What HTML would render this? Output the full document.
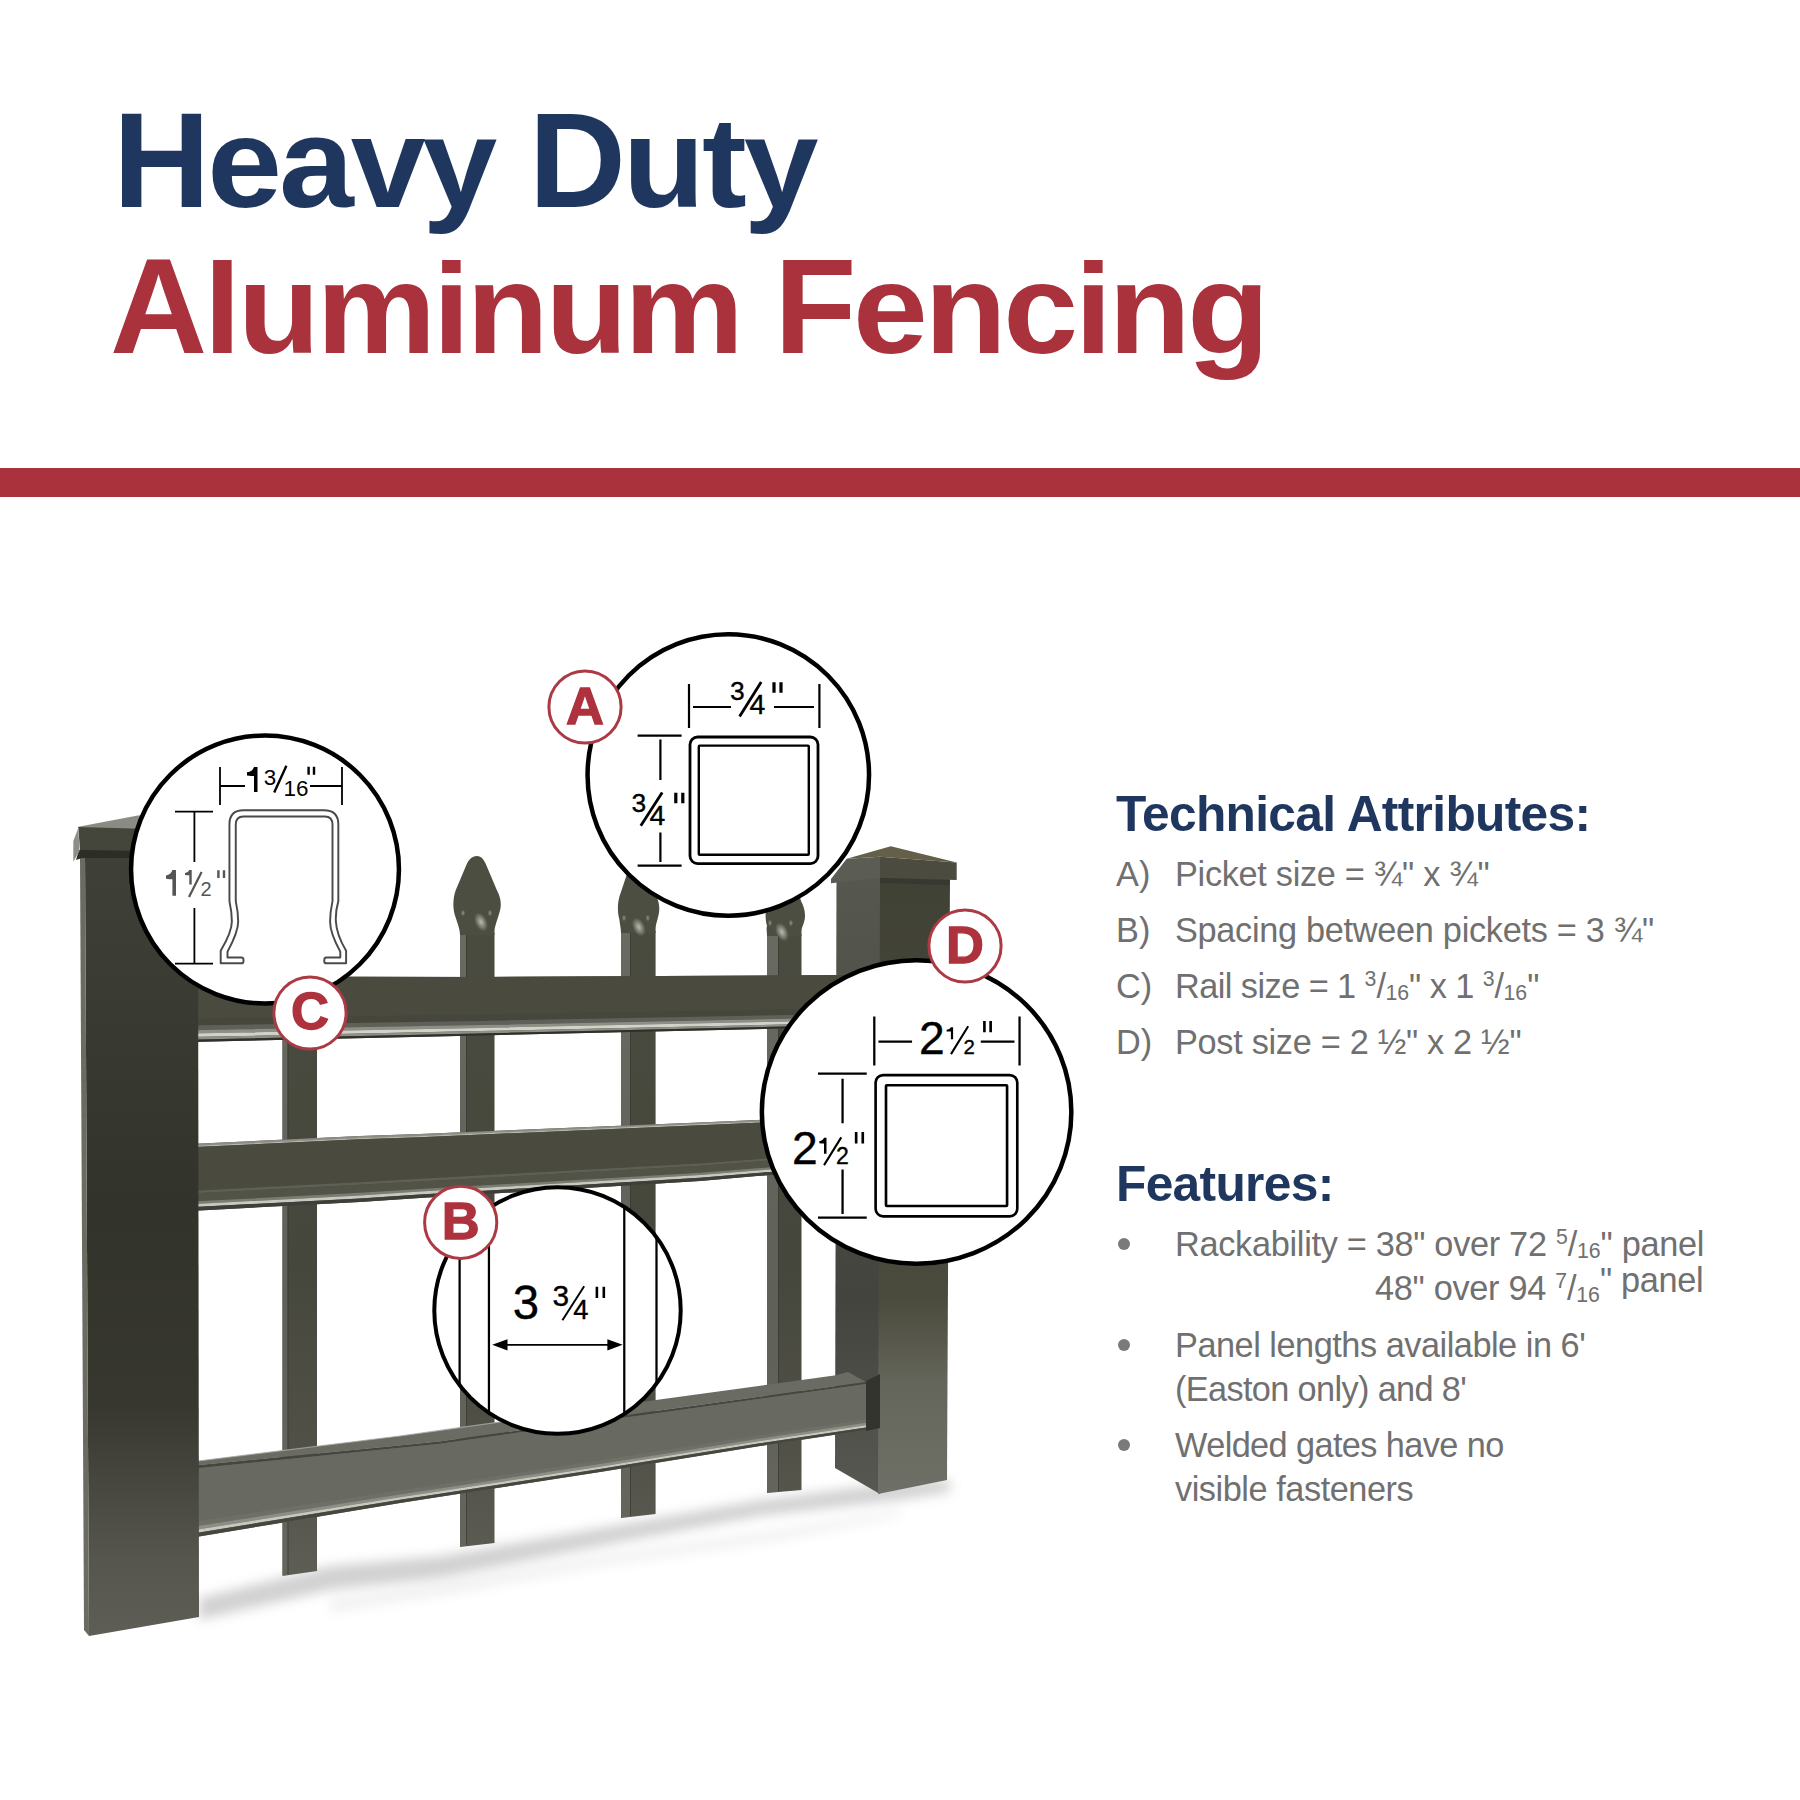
<!DOCTYPE html>
<html><head><meta charset="utf-8">
<style>
*{margin:0;padding:0;box-sizing:border-box}
html,body{width:1800px;height:1800px;background:#fff;overflow:hidden}
body{position:relative;font-family:"Liberation Sans",sans-serif}
.t{position:absolute;white-space:nowrap;line-height:1}
.h1{font-weight:bold;font-size:134.5px;color:#1f365e}
.h2{font-weight:bold;font-size:134.5px;color:#a9323d}
.lc{display:inline-block;transform:scaleY(0.952);transform-origin:0 113.9px}
.bar{position:absolute;left:0;top:468px;width:1800px;height:29px;background:#a9323c}
.hd{font-weight:bold;font-size:49.7px;color:#1f365e}
.g{font-size:34.3px;color:#707070}
.ls{letter-spacing:-0.3px}
.sp{font-size:0.62em;position:relative;top:-0.55em;letter-spacing:0}
.sb{font-size:0.62em;position:relative;top:0.1em;letter-spacing:0}
.dot{position:absolute;width:12px;height:12px;border-radius:50%;background:#7a7a7c}
</style></head>
<body>
<svg width="1800" height="1800" viewBox="0 0 1800 1800" style="position:absolute;left:0;top:0">
<defs>
<filter id="blur6" x="-20%" y="-50%" width="140%" height="200%"><feGaussianBlur stdDeviation="6"/></filter>
<filter id="blur3" x="-20%" y="-50%" width="140%" height="200%"><feGaussianBlur stdDeviation="3"/></filter>
<filter id="blur1" x="-50%" y="-50%" width="200%" height="200%"><feGaussianBlur stdDeviation="1.2"/></filter>
<linearGradient id="lpost" x1="0" y1="850" x2="0" y2="1640" gradientUnits="userSpaceOnUse">
<stop offset="0" stop-color="#3f4037"/><stop offset="0.45" stop-color="#32332b"/><stop offset="0.7" stop-color="#37372f"/><stop offset="0.9" stop-color="#56564e"/><stop offset="1" stop-color="#5e5e56"/></linearGradient>
<linearGradient id="rpostL" x1="0" y1="880" x2="0" y2="1495" gradientUnits="userSpaceOnUse">
<stop offset="0" stop-color="#56574e"/><stop offset="0.68" stop-color="#43443d"/><stop offset="0.85" stop-color="#4e4f48"/><stop offset="1" stop-color="#575851"/></linearGradient>
<linearGradient id="rpostF" x1="0" y1="880" x2="0" y2="1495" gradientUnits="userSpaceOnUse">
<stop offset="0" stop-color="#414236"/><stop offset="0.68" stop-color="#4a4b3c"/><stop offset="0.82" stop-color="#65665b"/><stop offset="1" stop-color="#6e6f66"/></linearGradient>
<linearGradient id="pick" x1="0" y1="880" x2="0" y2="1580" gradientUnits="userSpaceOnUse">
<stop offset="0" stop-color="#4b4c40"/><stop offset="0.55" stop-color="#46473c"/><stop offset="0.8" stop-color="#505047"/><stop offset="1" stop-color="#5e5e56"/></linearGradient>
<linearGradient id="pickS" x1="0" y1="880" x2="0" y2="1580" gradientUnits="userSpaceOnUse">
<stop offset="0" stop-color="#6a6b62"/><stop offset="0.6" stop-color="#5f6058"/><stop offset="1" stop-color="#66665f"/></linearGradient>
<radialGradient id="spec" cx="0.5" cy="0.5" r="0.5"><stop offset="0" stop-color="#e8e8e0"/><stop offset="1" stop-color="#e8e8e0" stop-opacity="0"/></radialGradient>
</defs>
<g filter="url(#blur6)" opacity="0.45">
<polygon points="199,1598 330,1566 440,1556 600,1528 760,1500 900,1482 950,1480 950,1492 900,1500 760,1516 600,1546 440,1578 330,1590 199,1620" fill="#9a9a9a"/>
</g>
<g filter="url(#blur6)" opacity="0.12">
<polygon points="330,1600 460,1580 600,1556 780,1530 900,1510 900,1516 780,1540 600,1566 460,1592 330,1612" fill="#888"/>
</g>
<polygon points="282.5,990.0 317.0,990.0 317.0,1571.0 282.5,1576.0" fill="url(#pick)"/>
<polygon points="282.5,990.0 287.5,990.0 287.5,1575.0 282.5,1575.0" fill="url(#pickS)"/>
<rect x="287.5" y="990.0" width="1" height="584.0" fill="#36372f" opacity="0.7"/>
<polygon points="460.0,933.0 494.5,933.0 494.5,1543.0 460.0,1547.0" fill="url(#pick)"/>
<polygon points="460.0,933.0 466.0,933.0 466.0,1546.0 460.0,1546.0" fill="url(#pickS)"/>
<rect x="466.0" y="933.0" width="1" height="612.0" fill="#36372f" opacity="0.7"/>
<polygon points="621.0,931.0 655.6,931.0 655.6,1514.0 621.0,1518.0" fill="url(#pick)"/>
<polygon points="621.0,931.0 630.0,931.0 630.0,1517.0 621.0,1517.0" fill="url(#pickS)"/>
<rect x="630.0" y="931.0" width="1" height="585.0" fill="#36372f" opacity="0.7"/>
<polygon points="767.0,934.0 801.5,934.0 801.5,1490.0 767.0,1493.0" fill="url(#pick)"/>
<polygon points="767.0,934.0 778.0,934.0 778.0,1492.0 767.0,1492.0" fill="url(#pickS)"/>
<rect x="778.0" y="934.0" width="1" height="557.0" fill="#36372f" opacity="0.7"/>
<path d="M476.8,856 C471.8,856 468.8,860 466.8,864 L455.8,890 C452.8,898 452.8,908 454.8,915 C459,927 460,931 460,935 L460,935 L494.5,935 L494.5,931 C494.5,925 500.8,912 500.8,905 C500.8,898 498.8,894 496.8,890 L485.8,864 C483.8,860 481.8,856 476.8,856 Z" fill="#4d4e42"/>
<path d="M638.3,862 C633.3,862 630.3,866 628.3,870 L620.3,894 C617.3,902 617.3,912 619.3,919 C620,925 621,929 621,933 L621,933 L655.6,933 L655.6,929 C655.6,923 659.3,916 659.3,909 C659.3,902 657.3,898 655.3,894 L647.3,870 C645.3,866 643.3,862 638.3,862 Z" fill="#4d4e42"/>
<path d="M785,868 C780,868 777,872 775,876 L768,901 C765,909 765,919 767,926 C766,928 767,932 767,936 L767,936 L801.5,936 L801.5,932 C801.5,926 805,923 805,916 C805,909 803,905 801,901 L794,876 C792,872 790,868 785,868 Z" fill="#4d4e42"/>
<ellipse cx="481.0" cy="922.0" rx="6" ry="10" fill="url(#spec)" opacity="0.7" transform="rotate(-25 481.0 922.0)"/>
<ellipse cx="463.0" cy="913.0" rx="2.2" ry="3.5" fill="url(#spec)" opacity="0.45"/>
<ellipse cx="490.0" cy="913.0" rx="2.2" ry="3.5" fill="url(#spec)" opacity="0.45"/>
<ellipse cx="638.8" cy="927.0" rx="6" ry="10" fill="url(#spec)" opacity="0.7" transform="rotate(-25 638.8 927.0)"/>
<ellipse cx="624.0" cy="918.0" rx="2.2" ry="3.5" fill="url(#spec)" opacity="0.45"/>
<ellipse cx="647.8" cy="918.0" rx="2.2" ry="3.5" fill="url(#spec)" opacity="0.45"/>
<ellipse cx="781.9" cy="932.0" rx="6" ry="10" fill="url(#spec)" opacity="0.7" transform="rotate(-25 781.9 932.0)"/>
<ellipse cx="770.0" cy="923.0" rx="2.2" ry="3.5" fill="url(#spec)" opacity="0.45"/>
<ellipse cx="790.9" cy="923.0" rx="2.2" ry="3.5" fill="url(#spec)" opacity="0.45"/>
<polygon points="836.5,874 880,874 880,1494 835,1468" fill="url(#rpostL)"/>
<polygon points="880,874 950,875 947,1480 878,1494" fill="url(#rpostF)"/>
<polygon points="846.7,858.7 890.8,846.2 956.7,862.5 880,856.7" fill="#645f48"/>
<polygon points="846.7,858.7 880,856.7 880,878 831,883.3 831,879" fill="#5b5c53"/>
<polygon points="880,856.7 956.7,862.5 956.7,880 880,878" fill="#4b4c3f"/>
<polygon points="880,878 950,880 950,885 880,883" fill="#30312a" opacity="0.55"/>
<polygon points="190.0,976.5 480.0,977.0 845.0,975.0 845.0,1027.0 480.0,1035.5 190.0,1042.0" fill="#4a4b3e"/>
<polygon points="190.0,976.5 480.0,977.0 845.0,975.0 845.0,1008.3 480.0,1014.4 190.0,1018.4" fill="#4a4b3e"/>
<polygon points="190.0,1018.4 480.0,1014.4 845.0,1008.3 845.0,1014.0 480.0,1020.9 190.0,1025.6" fill="#46473c"/>
<polygon points="190.0,1025.6 480.0,1020.9 845.0,1014.0 845.0,1017.6 480.0,1025.0 190.0,1030.2" fill="#5f6057"/>
<polygon points="190.0,1030.2 480.0,1025.0 845.0,1017.6 845.0,1020.2 480.0,1027.9 190.0,1033.5" fill="#8d8e86"/>
<polygon points="190.0,1033.5 480.0,1027.9 845.0,1020.2 845.0,1023.1 480.0,1031.1 190.0,1037.1" fill="#d2d2ca"/>
<polygon points="190.0,1037.1 480.0,1031.1 845.0,1023.1 845.0,1025.2 480.0,1033.5 190.0,1039.7" fill="#8e8f87"/>
<polygon points="190.0,1039.7 480.0,1033.5 845.0,1025.2 845.0,1027.0 480.0,1035.5 190.0,1042.0" fill="#2f302a"/>
<polygon points="190.0,1144.0 360.0,1136.0 420.0,1134.0 700.0,1122.4 757.0,1120.0 770.0,1119.4 845.0,1116.0 845.0,1171.0 770.0,1175.0 757.0,1176.1 700.0,1181.0 420.0,1198.0 360.0,1202.0 190.0,1211.0" fill="#4a4b3e"/>
<polygon points="190.0,1144.0 360.0,1136.0 420.0,1134.0 700.0,1122.4 757.0,1120.0 770.0,1119.4 845.0,1116.0 845.0,1117.9 770.0,1121.4 757.0,1122.0 700.0,1124.4 420.0,1136.2 360.0,1138.3 190.0,1146.3" fill="#8c8d84"/>
<polygon points="190.0,1146.0 360.0,1138.0 420.0,1135.9 700.0,1124.1 757.0,1121.7 770.0,1121.1 845.0,1117.7 845.0,1118.8 770.0,1122.2 757.0,1122.8 700.0,1125.3 420.0,1137.2 360.0,1139.3 190.0,1147.3" fill="#b6b7ae"/>
<polygon points="190.0,1147.3 360.0,1139.3 420.0,1137.2 700.0,1125.3 757.0,1122.8 770.0,1122.2 845.0,1118.8 845.0,1154.5 770.0,1158.3 757.0,1159.3 700.0,1163.4 420.0,1178.8 360.0,1182.2 190.0,1190.9" fill="#4a4b3e"/>
<polygon points="190.0,1190.9 360.0,1182.2 420.0,1178.8 700.0,1163.4 757.0,1159.3 770.0,1158.3 845.0,1154.5 845.0,1156.7 770.0,1160.5 757.0,1161.5 700.0,1165.8 420.0,1181.4 360.0,1184.8 190.0,1193.6" fill="#5e5f55"/>
<polygon points="190.0,1193.6 360.0,1184.8 420.0,1181.4 700.0,1165.8 757.0,1161.5 770.0,1160.5 845.0,1156.7 845.0,1163.3 770.0,1167.2 757.0,1168.3 700.0,1172.8 420.0,1189.0 360.0,1192.8 190.0,1201.6" fill="#525347"/>
<polygon points="190.0,1201.6 360.0,1192.8 420.0,1189.0 700.0,1172.8 757.0,1168.3 770.0,1167.2 845.0,1163.3 845.0,1165.5 770.0,1169.4 757.0,1170.5 700.0,1175.1 420.0,1191.6 360.0,1195.4 190.0,1204.3" fill="#7a7b72"/>
<polygon points="190.0,1204.3 360.0,1195.4 420.0,1191.6 700.0,1175.1 757.0,1170.5 770.0,1169.4 845.0,1165.5 845.0,1168.0 770.0,1171.9 757.0,1173.0 700.0,1177.8 420.0,1194.5 360.0,1198.4 190.0,1207.3" fill="#c8c8c0"/>
<polygon points="190.0,1207.3 360.0,1198.4 420.0,1194.5 700.0,1177.8 757.0,1173.0 770.0,1171.9 845.0,1168.0 845.0,1171.0 770.0,1175.0 757.0,1176.1 700.0,1181.0 420.0,1198.0 360.0,1202.0 190.0,1211.0" fill="#3e3f38"/>
<polygon points="190.0,1462.0 400.0,1436.0 440.0,1430.4 640.0,1402.2 656.0,1400.0 836.0,1375.3 848.0,1372.0 866.0,1382.0 866.0,1382.0 836.0,1386.2 656.0,1411.1 640.0,1413.3 440.0,1441.5 400.0,1445.4 190.0,1466.0" fill="#6a6b62"/>
<polyline points="190.0,1462.0 400.0,1436.0 440.0,1430.4 640.0,1402.2" fill="none" stroke="#a9aaa1" stroke-width="1.2" opacity="0.8"/>
<polygon points="190.0,1466.0 400.0,1445.4 440.0,1441.5 600.0,1418.9 640.0,1413.3 760.0,1396.7 866.0,1382.0 866.0,1430.0 760.0,1446.0 640.0,1465.5 600.0,1472.0 440.0,1496.8 400.0,1503.0 190.0,1538.0" fill="#686960"/>
<polygon points="190.0,1466.0 400.0,1445.4 440.0,1441.5 600.0,1418.9 640.0,1413.3 760.0,1396.7 866.0,1382.0 866.0,1383.9 760.0,1398.7 640.0,1415.4 600.0,1421.1 440.0,1443.7 400.0,1447.7 190.0,1468.9" fill="#45463d"/>
<polygon points="190.0,1468.9 400.0,1447.7 440.0,1443.7 600.0,1421.1 640.0,1415.4 760.0,1398.7 866.0,1383.9 866.0,1419.4 760.0,1435.1 640.0,1454.0 600.0,1460.3 440.0,1484.6 400.0,1490.3 190.0,1522.2" fill="#686960"/>
<polygon points="190.0,1522.2 400.0,1490.3 440.0,1484.6 600.0,1460.3 640.0,1454.0 760.0,1435.1 866.0,1419.4 866.0,1422.8 760.0,1438.6 640.0,1457.7 600.0,1464.0 440.0,1488.5 400.0,1494.4 190.0,1527.2" fill="#6e6f66"/>
<polygon points="190.0,1527.2 400.0,1494.4 440.0,1488.5 600.0,1464.0 640.0,1457.7 760.0,1438.6 866.0,1422.8 866.0,1425.2 760.0,1441.1 640.0,1460.3 600.0,1466.7 440.0,1491.3 400.0,1497.2 190.0,1530.8" fill="#8c8d84"/>
<polygon points="190.0,1530.8 400.0,1497.2 440.0,1491.3 600.0,1466.7 640.0,1460.3 760.0,1441.1 866.0,1425.2 866.0,1427.4 760.0,1443.3 640.0,1462.6 600.0,1469.1 440.0,1493.8 400.0,1499.8 190.0,1534.0" fill="#c8c8c0"/>
<polygon points="190.0,1534.0 400.0,1499.8 440.0,1493.8 600.0,1469.1 640.0,1462.6 760.0,1443.3 866.0,1427.4 866.0,1430.0 760.0,1446.0 640.0,1465.5 600.0,1472.0 440.0,1496.8 400.0,1503.0 190.0,1538.0" fill="#45463e"/>
<polygon points="866,1381 880,1374 880,1428 866,1431" fill="#33342d"/>
<polygon points="85,856 198,852 199,1617 89,1636" fill="url(#lpost)"/>
<polygon points="80,858 85,856 89,1636 84,1630" fill="#6a6b61"/>
<polygon points="78.3,826.7 137.8,815.6 150,815 150,830 132,830 78.3,828" fill="#8a8b82"/>
<polygon points="78.3,827 150,829 150,852 80,851" fill="#45463b"/>
<polygon points="76,860 79,850 150,851 150,858 82,858" fill="#2c2d27"/>
<polygon points="73.3,841 78.3,828 79.5,851 73.3,861.7" fill="#8d8e86"/>
<ellipse cx="265.0" cy="869.5" rx="133.95" ry="133.95" fill="#fff" stroke="#000" stroke-width="4.5"/>
<g transform="translate(60,720) scale(0.2)" stroke="#000" fill="none">
<path d="M800,235 V425 M1410,235 V425 M800,330 H925 M1250,330 H1410" stroke-width="9"/>
<path d="M575,458 H765 M575,1218 H765 M672,458 V710 M672,940 V1218" stroke-width="9"/>
</g>
<g transform="translate(60,720) scale(0.2)" fill="#000" font-family="Liberation Sans">
<text x="1019" y="324" font-size="112">3</text><text x="1118" y="380" font-size="112">16</text>
<path d="M1071,362 L1132,229" stroke="#000" stroke-width="12"/>
<path d="M1243,234 V274 M1270,234 V274" stroke="#000" stroke-width="12"/>
</g>
<g transform="translate(60,720) scale(0.2)" fill="#555" font-family="Liberation Sans">
<text x="702" y="879" font-size="100">2</text>
<path d="M645,885 L708,760" stroke="#555" stroke-width="11"/>
<path d="M792,751 V790 M820,751 V790" stroke="#555" stroke-width="12"/>
</g>
<g transform="translate(210,800) scale(0.09722)"><path d="M200,1040 L200,250 Q200,105 345,105 L1170,105 Q1320,105 1320,250 L1320,1040 C1300,1110 1290,1170 1295,1250 C1300,1350 1340,1450 1400,1550 L1400,1680 L1195,1680 Q1175,1680 1175,1650 Q1175,1620 1195,1620 L1340,1620 L1340,1560 C1280,1450 1235,1350 1235,1250 C1235,1170 1245,1110 1260,1040 L1260,255 Q1260,170 1180,170 L345,170 Q265,170 265,255 L265,1040 C280,1110 290,1170 290,1250 C290,1350 240,1450 180,1560 L180,1620 L325,1620 Q345,1620 345,1650 Q345,1680 325,1680 L110,1680 L110,1550 C170,1450 225,1350 225,1250 C225,1170 215,1110 200,1040 Z" fill="none" stroke="#4a4a4a" stroke-width="20" stroke-linejoin="round"/></g>
<circle cx="310.0" cy="1013.0" r="36.10" fill="#fff" stroke="#ac3a44" stroke-width="3"/><text x="310.0" y="1028.8" text-anchor="middle" font-family="Liberation Sans" font-weight="bold" font-size="52.5" fill="#ad323d" stroke="#ad323d" stroke-width="1.3">C</text>
<ellipse cx="728.3" cy="775.0" rx="140.75" ry="140.75" fill="#fff" stroke="#000" stroke-width="4.5"/>
<g transform="translate(530,620) scale(0.2)" stroke="#000" fill="none">
<rect x="800" y="585" width="640" height="633" rx="38" stroke-width="14"/>
<rect x="844" y="628" width="550" height="546" rx="4" stroke-width="12"/>
<path d="M795,320 V540 M1447,320 V540 M815,435 H1005 M1220,435 H1420" stroke-width="11"/>
<path d="M538,578 H758 M538,1228 H758 M652,598 V800 M652,1062 V1210" stroke-width="11"/>
<path d="M1048,482 L1156,310 M554,1029 L661,862" stroke-width="14"/>
<path d="M1220,311 V364 M1255,311 V364 M729,864 V916 M764,864 V916" stroke-width="16"/>
</g>
<g transform="translate(530,620) scale(0.2)" fill="#000" stroke="#000" stroke-width="1.8" font-family="Liberation Sans">
<text x="1000" y="401" font-size="132">3</text><text x="1098" y="472" font-size="142">4</text>
<text x="508" y="961" font-size="132">3</text><text x="598" y="1024" font-size="142">4</text>
</g>
<circle cx="585.0" cy="707.0" r="36.10" fill="#fff" stroke="#ac3a44" stroke-width="3"/><text x="585.0" y="723.6" text-anchor="middle" font-family="Liberation Sans" font-weight="bold" font-size="52.5" fill="#ad323d" stroke="#ad323d" stroke-width="1.3">A</text>
<ellipse cx="916.6" cy="1112.0" rx="154.75" ry="151.75" fill="#fff" stroke="#000" stroke-width="4.5"/>
<g transform="translate(750,940) scale(0.18889)" stroke="#000" fill="none">
<rect x="665" y="715" width="750" height="748" rx="40" stroke-width="14"/>
<rect x="720" y="769" width="641" height="639" rx="4" stroke-width="14"/>
<path d="M658,405 V665 M1427,405 V665 M680,538 H858 M1222,538 H1400" stroke-width="12"/>
<path d="M360,708 H618 M360,1470 H618 M490,735 V970 M490,1215 V1450" stroke-width="12"/>
<path d="M1064,604 L1155,457 M392,1192 L483,1045" stroke-width="11"/>
<path d="M1241,429 V488 M1274,429 V488 M562,1016 V1078 M597,1016 V1078" stroke-width="14"/>
</g>
<g transform="translate(750,940) scale(0.18889)" fill="#000" stroke="#000" stroke-width="1.9" font-family="Liberation Sans">
<text x="895" y="605" font-size="245">2</text><text x="1130" y="601" font-size="108">2</text>
<text x="222" y="1188" font-size="245">2</text><text x="455" y="1188" font-size="122">2</text>
</g>
<circle cx="965.0" cy="946.0" r="36.10" fill="#fff" stroke="#ac3a44" stroke-width="3"/><text x="965.0" y="963.0" text-anchor="middle" font-family="Liberation Sans" font-weight="bold" font-size="52.5" fill="#ad323d" stroke="#ad323d" stroke-width="1.3">D</text>
<clipPath id="clipB"><circle cx="557.5" cy="1310.5" r="123"/></clipPath>
<ellipse cx="557.5" cy="1310.5" rx="123.20" ry="123.20" fill="#fff" stroke="#000" stroke-width="4.0"/>
<g clip-path="url(#clipB)"><g transform="translate(410,1170) scale(0.16111)" stroke="#000" fill="none">
<path d="M308,0 V1800 M490,0 V1800 M1330,0 V1800 M1530,0 V1800" stroke-width="14"/>
<path d="M600,1085 H1230" stroke-width="11"/>
</g></g>
<g transform="translate(410,1170) scale(0.16111)">
<polygon points="510,1085 605,1050 605,1120" fill="#000"/><polygon points="1320,1085 1225,1050 1225,1120" fill="#000"/>
<path d="M946,933 L1081,721" stroke="#000" stroke-width="12"/>
<path d="M1160,724 V794 M1203,724 V794" stroke="#000" stroke-width="16"/>
</g>
<g transform="translate(410,1170) scale(0.16111)" fill="#000" stroke="#000" stroke-width="2.2" font-family="Liberation Sans">
<text x="638" y="925" font-size="294">3</text><text x="885" y="846" font-size="185">3</text><text x="1013" y="922" font-size="170">4</text>
</g>
<circle cx="460.7" cy="1222.4" r="36.10" fill="#fff" stroke="#ac3a44" stroke-width="3"/><text x="460.7" y="1238.5" text-anchor="middle" font-family="Liberation Sans" font-weight="bold" font-size="52.5" fill="#ad323d" stroke="#ad323d" stroke-width="1.3">B</text>
<path d="M254.00,767.00 L257.50,767.00 L257.50,792.00 L254.00,792.00 L254.00,776.00 Q251.90,776.00 247.00,775.50 L247.00,772.25 Q252.43,771.75 254.00,767.00 Z" fill="#000"/>
<path d="M172.40,870.00 L176.00,870.00 L176.00,895.70 L172.40,895.70 L172.40,879.25 Q170.40,879.25 166.00,878.74 L166.00,875.40 Q170.90,874.88 172.40,870.00 Z" fill="#555"/>
<path d="M189.30,870.00 L191.70,870.00 L191.70,884.60 L189.30,884.60 L189.30,875.26 Q187.96,875.26 185.00,874.96 L185.00,873.07 Q188.29,872.77 189.30,870.00 Z" fill="#555"/>
<path d="M950.90,1027.30 L953.10,1027.30 L953.10,1039.30 L950.90,1039.30 L950.90,1031.62 Q949.60,1031.62 946.60,1031.38 L946.60,1029.82 Q949.92,1029.58 950.90,1027.30 Z" fill="#000"/>
<path d="M824.00,1137.80 L826.50,1137.80 L826.50,1153.80 L824.00,1153.80 L824.00,1143.56 Q822.56,1143.56 819.30,1143.24 L819.30,1141.16 Q822.92,1140.84 824.00,1137.80 Z" fill="#000"/>
</svg>
<div class="t h1" id="t1" style="left:113px;top:94px;letter-spacing:-3px">H<span class="lc">eavy</span> D<span class="lc">uty</span></div>
<div class="t h2" id="t2" style="left:110px;top:240px;letter-spacing:-3.4px">A<span class="lc">luminum</span> F<span class="lc">encing</span></div>
<div class="bar"></div>

<div class="t hd" id="ta" style="left:1116px;top:790px;letter-spacing:-0.68px">Technical Attributes:</div>
<div class="t g" id="la" style="left:1116px;top:857px">A)</div>
<div class="t g" id="lb" style="left:1116px;top:913px">B)</div>
<div class="t g" id="lc" style="left:1116px;top:969px">C)</div>
<div class="t g" id="ld" style="left:1116px;top:1025px">D)</div>
<div class="t g ls" id="xa" style="left:1175px;top:857px">Picket size = ¾" x ¾"</div>
<div class="t g ls" id="xb" style="left:1175px;top:913px">Spacing between pickets = 3 ¾"</div>
<div class="t g ls" id="xc" style="left:1175px;top:969px;letter-spacing:-0.55px">Rail size = 1 <span class="sp">3</span>/<span class="sb">16</span>" x 1 <span class="sp">3</span>/<span class="sb">16</span>"</div>
<div class="t g ls" id="xd" style="left:1175px;top:1025px">Post size = 2 ½" x 2 ½"</div>

<div class="t hd" id="tf" style="left:1116px;top:1160px;letter-spacing:-0.68px">Features:</div>
<div class="dot" style="left:1118px;top:1238px"></div>
<div class="dot" style="left:1118px;top:1339px"></div>
<div class="dot" style="left:1118px;top:1439px"></div>
<div class="t g ls" id="f1" style="left:1175px;top:1227px">Rackability = 38" over 72 <span class="sp">5</span>/<span class="sb">16</span>" panel</div>
<div class="t g ls" id="f2" style="left:1375px;top:1271px">48" over 94 <span class="sp">7</span>/<span class="sb">16</span><span style="position:relative;top:-8px">" panel</span></div>
<div class="t g ls" id="f3" style="left:1175px;top:1328px;letter-spacing:-0.48px">Panel lengths available in 6'</div>
<div class="t g ls" id="f4" style="left:1175px;top:1372px;letter-spacing:-0.64px">(Easton only) and 8'</div>
<div class="t g ls" id="f5" style="left:1175px;top:1428px;letter-spacing:-0.6px">Welded gates have no</div>
<div class="t g ls" id="f6" style="left:1175px;top:1472px;letter-spacing:-0.45px">visible fasteners</div>
</body></html>
